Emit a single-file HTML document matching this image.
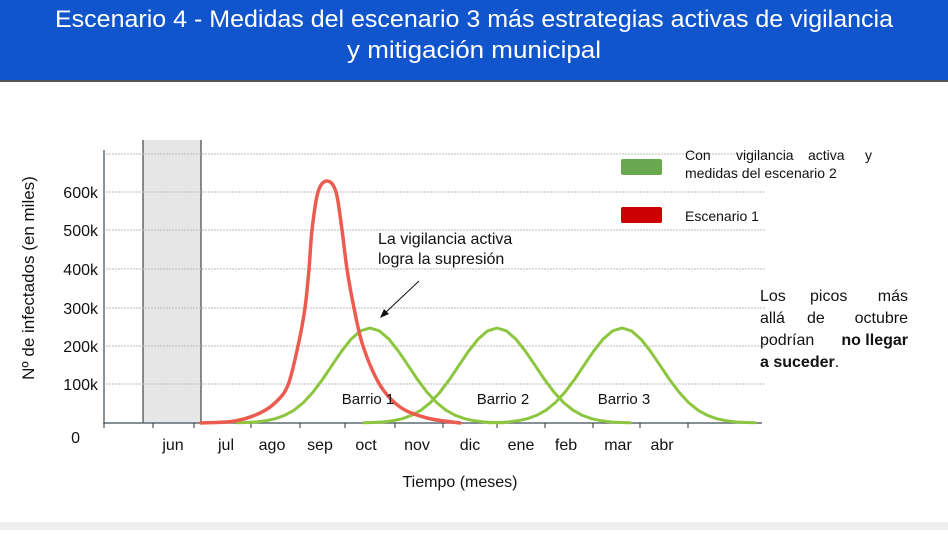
<!DOCTYPE html>
<html><head><meta charset="utf-8"><style>
body{margin:0;width:948px;height:530px;overflow:hidden;background:#fff;font-family:"Liberation Sans",sans-serif}
</style></head><body>
<svg width="948" height="530" viewBox="0 0 948 530" xmlns="http://www.w3.org/2000/svg" font-family="Liberation Sans, sans-serif">
<defs>
<polyline id="bell" fill="none" stroke="#8cc63f" stroke-width="3" stroke-linejoin="round" stroke-linecap="round" points="-133,422.8 -123.5,422.5 -114,422 -104.5,420.8 -95,418.8 -85.5,415.4 -76,410.2 -66.5,402.5 -57,392.1 -47.5,379.5 -38,365.3 -28.5,351.3 -19,339.2 -9.5,330.9 0,328 9.5,330.9 19,339.2 28.5,351.3 38,365.3 47.5,379.5 57,392.1 66.5,402.5 76,410.2 85.5,415.4 95,418.8 104.5,420.8 114,422 123.5,422.5 133,422.8"/>
</defs>
<rect x="0" y="0" width="948" height="80" fill="#1155cc"/>
<rect x="0" y="80" width="948" height="2" fill="#555"/>
<text x="474" y="27" fill="#fff" font-size="24" text-anchor="middle" textLength="838" lengthAdjust="spacingAndGlyphs" font-family="Liberation Sans Narrow, Liberation Sans, sans-serif">Escenario 4 - Medidas del escenario 3 más estrategias activas de vigilancia</text>
<text x="474" y="58" fill="#fff" font-size="24" text-anchor="middle" textLength="254" lengthAdjust="spacingAndGlyphs" font-family="Liberation Sans Narrow, Liberation Sans, sans-serif">y mitigación municipal</text>
<rect x="0" y="522" width="948" height="8" fill="#efefef"/>
<rect x="143" y="140" width="58" height="283" fill="#e6e6e6"/>
<line x1="143" y1="140" x2="143" y2="423" stroke="#222" stroke-width="1"/>
<line x1="201" y1="140" x2="201" y2="423" stroke="#222" stroke-width="1"/>
<g stroke="#bbb" stroke-width="1" stroke-dasharray="2,1">
<line x1="106" y1="154" x2="765" y2="154"/><line x1="106" y1="192" x2="765" y2="192"/>
<line x1="106" y1="230" x2="765" y2="230"/><line x1="106" y1="269" x2="765" y2="269"/>
<line x1="106" y1="308" x2="765" y2="308"/><line x1="106" y1="346" x2="765" y2="346"/>
<line x1="106" y1="384" x2="765" y2="384"/>
</g>
<line x1="104" y1="150" x2="104" y2="424" stroke="#8a939c" stroke-width="2"/>
<line x1="104" y1="423" x2="762" y2="423" stroke="#5f6a73" stroke-width="1.5"/>
<g stroke="#333" stroke-width="1">
<line x1="104" y1="423" x2="104" y2="428"/><line x1="153" y1="423" x2="153" y2="428"/><line x1="194" y1="423" x2="194" y2="428"/><line x1="251" y1="423" x2="251" y2="428"/><line x1="300" y1="423" x2="300" y2="428"/><line x1="345" y1="423" x2="345" y2="428"/><line x1="395" y1="423" x2="395" y2="428"/><line x1="443" y1="423" x2="443" y2="428"/><line x1="497" y1="423" x2="497" y2="428"/><line x1="545" y1="423" x2="545" y2="428"/><line x1="593" y1="423" x2="593" y2="428"/><line x1="640" y1="423" x2="640" y2="428"/><line x1="688" y1="423" x2="688" y2="428"/>
</g>
<g font-size="16" fill="#111" text-anchor="end">
<text x="98" y="198">600k</text><text x="98" y="236">500k</text><text x="98" y="275">400k</text><text x="98" y="314">300k</text><text x="98" y="352">200k</text><text x="98" y="390">100k</text><text x="80" y="443">0</text>
</g>
<g font-size="16" fill="#111" text-anchor="middle">
<text x="173" y="450">jun</text><text x="226" y="450">jul</text><text x="272" y="450">ago</text><text x="320" y="450">sep</text><text x="366" y="450">oct</text><text x="417" y="450">nov</text><text x="470" y="450">dic</text><text x="521" y="450">ene</text><text x="566" y="450">feb</text><text x="618" y="450">mar</text><text x="662" y="450">abr</text>
<text x="460" y="487">Tiempo (meses)</text>
</g>
<text transform="translate(34,278) rotate(-90)" font-size="17" text-anchor="middle" fill="#111">Nº de infectados (en miles)</text>
<use href="#bell" transform="translate(370,0)"/>
<use href="#bell" transform="translate(497,0)"/>
<use href="#bell" transform="translate(622,0)"/>
<path fill="none" stroke="#ec5b50" stroke-width="3.5" stroke-linecap="round" d="M201,423 C206.7,422.7 225.2,422.7 235,421 C244.8,419.3 253.2,416.2 260,413 C266.8,409.8 271.3,406.7 276,402 C280.7,397.3 284.3,394.3 288,385 C291.7,375.7 295.2,358.8 298,346 C300.8,333.2 303.2,320.8 305,308 C306.8,295.2 307.8,282 309,269 C310.2,256 310.5,242.8 312,230 C313.5,217.2 315.5,200.2 318,192 C320.5,183.8 324,181 327,181 C330,181 333.5,183.8 336,192 C338.5,200.2 340.2,217.2 342,230 C343.8,242.8 345,256 347,269 C349,282 351.3,295.2 354,308 C356.7,320.8 358.7,333.2 363,346 C367.3,358.8 373.8,374.8 380,385 C386.2,395.2 392.2,401.5 400,407 C407.8,412.5 417,415.3 427,418 C437,420.7 454.5,422.2 460,423"/>
<g font-size="15" fill="#111" text-anchor="middle">
<text x="368" y="404">Barrio 1</text><text x="503" y="404">Barrio 2</text><text x="624" y="404">Barrio 3</text>
</g>
<text x="378" y="244" font-size="16" fill="#111">La vigilancia activa</text>
<text x="378" y="264" font-size="16" fill="#111">logra la supresión</text>
<line x1="419" y1="281" x2="384" y2="314" stroke="#111" stroke-width="1"/>
<polygon points="380,318 384,309 389,314" fill="#111"/>
<rect x="621" y="159" width="41" height="16" rx="2" fill="#6aa84f"/>
<rect x="621" y="207" width="41" height="16" rx="2" fill="#cc0000"/>
<g font-size="14" fill="#111">
<text x="685" y="160">Con</text><text x="736" y="160">vigilancia</text><text x="808" y="160">activa</text><text x="865" y="160">y</text>
<text x="685" y="178">medidas del escenario 2</text>
<text x="685" y="221">Escenario 1</text>
</g>
<g font-size="16" fill="#111">
<text x="760" y="301">Los</text><text x="810" y="301">picos</text><text x="908" y="301" text-anchor="end">más</text>
<text x="760" y="323">allá</text><text x="807" y="323">de</text><text x="908" y="323" text-anchor="end">octubre</text>
<text x="760" y="345">podrían</text><text x="908" y="345" text-anchor="end" font-weight="bold">no llegar</text>
<text x="760" y="367"><tspan font-weight="bold">a suceder</tspan>.</text>
</g>
</svg>
</body></html>
